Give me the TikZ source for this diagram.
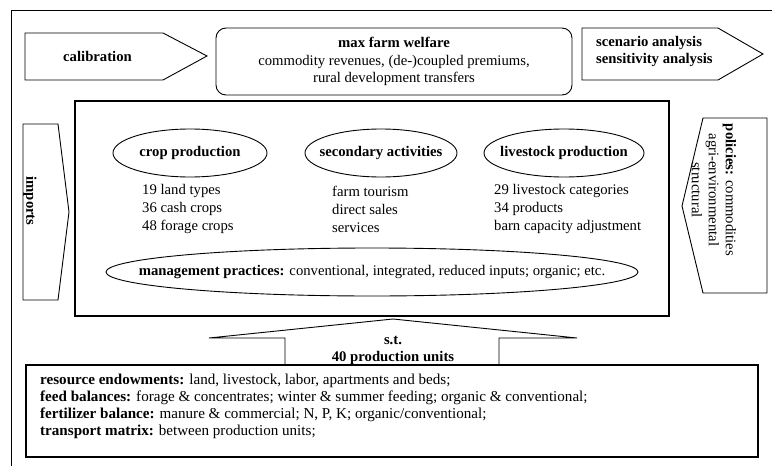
\documentclass[tikz,border=0pt]{standalone}
\usepackage{fontspec}
\setmainfont{Liberation Serif}
\begin{document}
\begin{tikzpicture}[x=1pt,y=-1pt,
  outline/.style={draw=black, line width=0.9pt, line join=miter},
  heavy/.style={draw=black, line width=1.2pt},
  txt/.style={inner sep=0pt, font=\fontsize{14.7}{17.5}\selectfont},
  listtxt/.style={inner sep=0pt, anchor=west, align=left, font=\fontsize{14.7}{18}\selectfont},
  smalltxt/.style={inner sep=0pt, font=\fontsize{15.1}{17}\selectfont}
]
\useasboundingbox (0,0) rectangle (772,466);
\clip (0,0) rectangle (772,466);

% outer frame (runs past the right and lower edges)
\draw[outline] (11,10) rectangle (800,500);

% calibration arrow
\draw[outline] (25,33) -- (163,33) -- (207,56) -- (163,80) -- (25,80) -- cycle;
\node[txt] (calib) at (97.5,56) {\textbf{calibration}};

% objective
\draw[outline, rounded corners=10pt] (216,28) rectangle (572,95);
\node[txt, align=center] (objective) at (394,61.5)
  {\textbf{max farm welfare}\\commodity revenues, (de-)coupled premiums,\\rural development transfers};

% scenario arrow
\draw[outline] (582,28) -- (718,28) -- (763,54) -- (718,80) -- (582,80) -- cycle;
\node[txt, anchor=west, align=left] (scen) at (596,51.5)
  {\textbf{scenario analysis}\\\textbf{sensitivity analysis}};

% imports arrow
\draw[outline] (23,124) -- (58,124) -- (69,212) -- (58,300) -- (23,300) -- cycle;
\node[txt, rotate=-90] (imports) at (30,201) {\textbf{imports}};

% policies arrow
\draw[outline] (703,118) -- (767,118) -- (767,293) -- (703,293) -- (682,206) -- cycle;
\node[txt, rotate=-90, align=center, font=\fontsize{14.7}{17}\selectfont] (policies) at (714,190)
  {\textbf{policies:} commodities\\agri-environmental\\structural};

% model core
\draw[heavy] (75,101) rectangle (669,316);

\node[txt] (crop) at (190,153) {\textbf{crop production}};
\draw[outline] (crop.center) ellipse [x radius=77, y radius=24];
\node[txt] (second) at (381,153) {\textbf{secondary activities}};
\draw[outline] (second.center) ellipse [x radius=76, y radius=24];
\node[txt] (live) at (564,153) {\textbf{livestock production}};
\draw[outline] (live.center) ellipse [x radius=80, y radius=24];

\node[listtxt] (croplist) at (142,209) {19 land types\\36 cash crops\\48 forage crops};
\node[listtxt] (seclist) at (332,209) {farm tourism\\direct sales\\services};
\node[listtxt] (livelist) at (494,209) {29 livestock categories\\34 products\\barn capacity adjustment};

\node[txt] (mgmt) at (372,272)
  {\textbf{management practices:} conventional, integrated, reduced inputs; organic; etc.};
\draw[outline] (mgmt.center) ellipse [x radius=266, y radius=24];

% constraint arrow
\draw[outline] (393,319) -- (577,338) -- (499,338) -- (499,365) -- (285,365) -- (285,338) -- (209,338) -- cycle;
\node[txt, align=center, font=\fontsize{14.7}{17}\selectfont] (st) at (393,350.5)
  {\textbf{s.t.}\\\textbf{40 production units}};

% constraints box
\draw[heavy] (26,365) rectangle (758,457);
\node[smalltxt, anchor=west, align=left] (constraints) at (40,406.5)
  {\textbf{resource endowments:} land, livestock, labor, apartments and beds;\\
   \textbf{feed balances:} forage \& concentrates; winter \& summer feeding; organic \& conventional;\\
   \textbf{fertilizer balance:} manure \& commercial; N, P, K; organic/conventional;\\
   \textbf{transport matrix:} between production units;};
\end{tikzpicture}
\end{document}
